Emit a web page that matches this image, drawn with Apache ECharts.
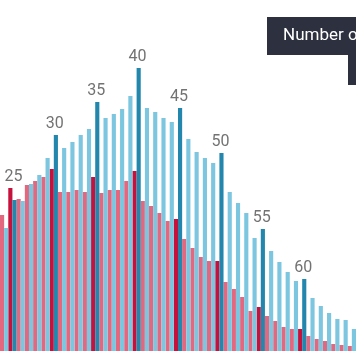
<!DOCTYPE html>
<html>
<head>
<meta charset="utf-8">
<script src="https://cdn.jsdelivr.net/npm/echarts@6/dist/echarts.min.js"></script>
<style>
html,body{margin:0;padding:0;background:#fff;}
#chart{width:356px;height:364px;}
</style>
</head>
<body>
<div id="chart"></div>
<script>
var ages = [24,25,26,27,28,29,30,31,32,33,34,35,36,37,38,39,40,41,42,43,44,45,46,47,48,49,50,51,52,53,54,55,56,57,58,59,60,61,62,63,64,65,66];
var pinkValues = [136,163,152,166,170,174,182,159,159,161,159,174,158,161,161,170,180,150,145,138,130,132,112,103,94,90,90,69,62,54,40,44,35,30,24,22,22,15,12,10,7,6,5];
var blueValues = [123,151,150,167,176,193,216,203,209,216,222,249,233,237,242,255,283,243,239,233,229,243,212,199,193,188,198,159,148,138,113,122,100,89,79,70,72,53,45,38,32,31,22];
var labelAges = [25,30,35,40,45,50,55,60];

var PINK = '#e3687f', PINK_DARK = '#c5113b', BLUE = '#7cc6e0', BLUE_DARK = '#2387ad';

function isMarked(a){ return labelAges.indexOf(a) >= 0; }

var pinkData = ages.map(function(a,i){
  return isMarked(a) ? {value: pinkValues[i], itemStyle:{color:PINK_DARK}} : pinkValues[i];
});
var blueData = ages.map(function(a,i){
  return isMarked(a) ? {value: blueValues[i], itemStyle:{color:BLUE_DARK}} : blueValues[i];
});
var labelData = ages.map(function(a,i){
  return isMarked(a) ? {value: Math.max(pinkValues[i], blueValues[i]), label:{show:true, formatter: String(a)}} : '-';
});

var chart = echarts.init(document.getElementById('chart'), null, {renderer:'canvas'});
chart.setOption({
  animation: false,
  grid: {left: -1.5, right: -2.4, top: 1, bottom: 13, containLabel: false},
  xAxis: {type:'category', data: ages.map(String), show:false, boundaryGap:true},
  yAxis: {type:'value', min:0, max:350, show:false, splitLine:{show:false}},
  series: [
    {type:'bar', name:'Women', data: pinkData, itemStyle:{color:PINK}, barGap:'0%', barCategoryGap:'0%'},
    {type:'bar', name:'Men', data: blueData, itemStyle:{color:BLUE}, barGap:'0%', barCategoryGap:'0%'},
    {type:'scatter', data: labelData, symbolSize:0, silent:true, z:5,
     label:{show:false, position:'top', distance:3, offset:[1,0], color:'#4f4f4f', fontSize:16, fontFamily:'Roboto'}}
  ],
  graphic: [
    {type:'rect', left:267, top:17, shape:{width:100, height:38}, style:{fill:'#2c303f'}, z:100},
    {type:'rect', left:348, top:55, shape:{width:10, height:30}, style:{fill:'#2c303f'}, z:100},
    {type:'text', left:283, top:27, style:{text:'Number of people', fill:'#fff', font:'17px Roboto'}, z:101}
  ]
});
</script>
</body>
</html>
